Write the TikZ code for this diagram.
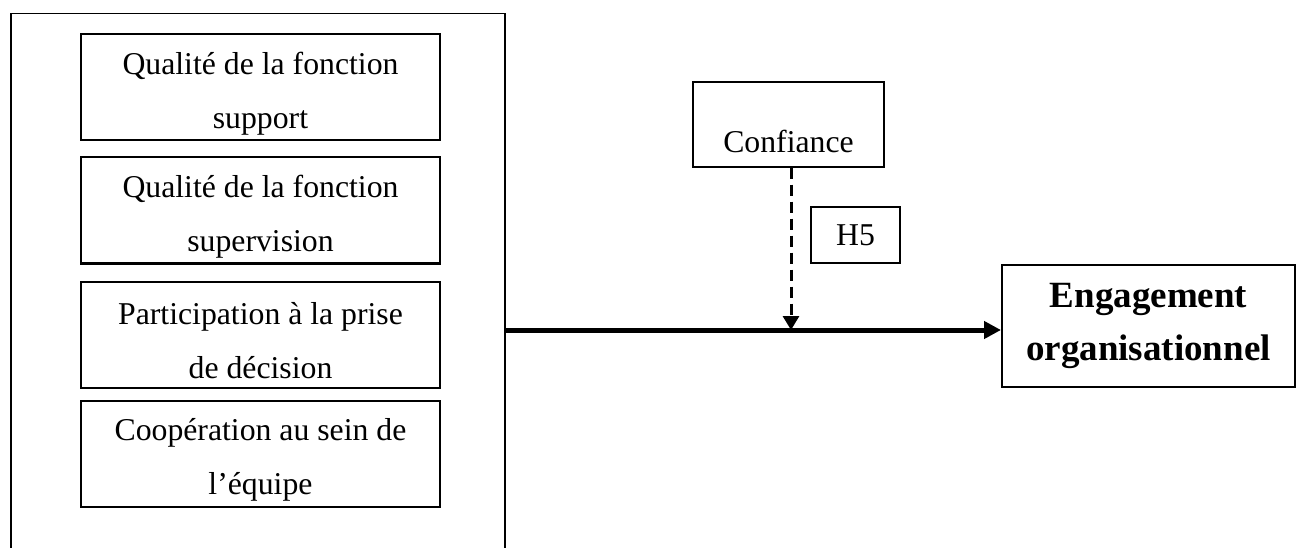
\documentclass[tikz,border=0pt]{standalone}
\usepackage{fontspec}
\setmainfont{Liberation Serif}
\usetikzlibrary{arrows.meta}
\begin{document}
\begin{tikzpicture}[x=1pt,y=-1pt,
    every node/.style={font=\fontsize{31.75}{54}\selectfont, inner sep=0pt},
    dim/.style={draw, line width=2pt, minimum width=359pt, minimum height=106pt, align=center, text height=88pt},
    main/.style={line width=5pt, -{Triangle[length=17pt,width=17pt]}},
    modere/.style={line width=3pt, dash pattern=on 11pt off 6pt, -{Triangle[length=14pt,width=16pt]}}]
    \useasboundingbox (0,0) rectangle (1296,548);
    \clip (0,0) rectangle (1296,548);

    % Dimensions (cadre de gauche)
    \node[draw, line width=1.5pt, minimum width=494pt, minimum height=560pt, anchor=north west] (grp) at (10,13) {};
    \node[dim] (supp) at (260.5,87.5) {Qualité de la fonction\\support};
    \node[dim] (superv) at (260.5,210.5) {Qualité de la fonction\\supervision};
    \node[dim] (part) at (260.5,334.5) {Participation à la prise\\de décision};
    \node[dim] (coop) at (260.5,454) {Coopération au sein de\\l’équipe};

    % Variable modératrice
    \node[draw, line width=1.3pt, minimum width=191pt, minimum height=85pt, text height=64pt, text depth=7pt] (conf) at (788.5,124.5) {Confiance};
    \node[draw, line width=1.5pt, minimum width=89pt, minimum height=56pt] (h5) at (855.5,235) {H5};

    % Variable dépendante
    \node[draw, line width=2pt, minimum width=293pt, minimum height=122pt, align=center,
          font=\fontsize{37}{53}\selectfont\bfseries] (eng) at (1148.5,326) {Engagement\\organisationnel};

    % Relations
    \coordinate (j) at (791,330);
    \draw[main] (grp.east |- j) -- (eng.west |- j);
    \draw[modere] (conf.south -| j) -- (j);
\end{tikzpicture}
\end{document}
